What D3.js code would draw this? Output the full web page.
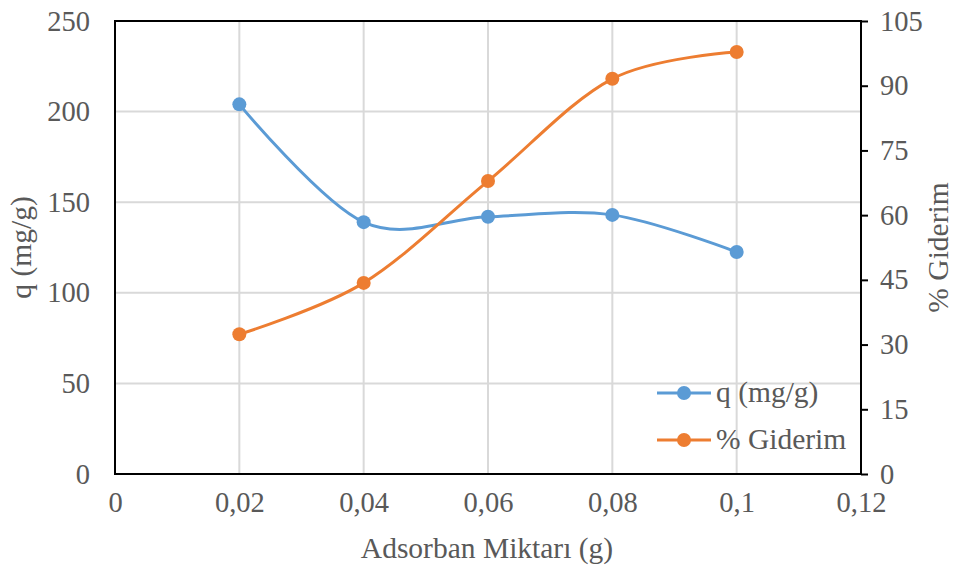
<!DOCTYPE html>
<html>
<head>
<meta charset="utf-8">
<script src="https://cdn.jsdelivr.net/npm/d3@7"></script>
<style>
  html, body { margin: 0; padding: 0; background: #fff; }
  svg { display: block; }
  svg text { font-family: "Times New Roman", Times, "Liberation Serif", serif; }
</style>
</head>
<body>
<svg id="chart" width="953" height="568"></svg>
<script>
// Adsorbent amount (g) on the x axis
const dose = [0.02, 0.04, 0.06, 0.08, 0.1];
// Adsorption capacity q (mg/g), left axis
const qValues = [204, 139, 142, 143, 122.5];
// Removal percentage, right axis
const removal = [32.4, 44.3, 67.9, 91.6, 97.8];

const xTicks = [0, 0.02, 0.04, 0.06, 0.08, 0.1, 0.12];
const xTickLabels = ["0", "0,02", "0,04", "0,06", "0,08", "0,1", "0,12"];
const leftTicks = [0, 50, 100, 150, 200, 250];
const rightTicks = [0, 15, 30, 45, 60, 75, 90, 105];

const seriesNames = ["q (mg/g)", "% Giderim"];
const colors = ["#5b9bd5", "#ed7d31"];
const textColor = "#595959";
const serifFamily = '"Times New Roman", Times, "Liberation Serif", serif';

const svg = d3.select("#chart");
const plot = { left: 115, right: 861, top: 21, bottom: 474 };

const x = d3.scaleLinear().domain([0, 0.12]).range([plot.left, plot.right]);
const yL = d3.scaleLinear().domain([0, 250]).range([plot.bottom, plot.top]);
const yR = d3.scaleLinear().domain([0, 105]).range([plot.bottom, plot.top]);

// Gridlines
const grid = svg.append("g").attr("stroke", "#d9d9d9").attr("stroke-width", 2);
grid.selectAll("line.h").data(leftTicks.slice(1)).join("line")
  .attr("x1", plot.left).attr("x2", plot.right)
  .attr("y1", d => yL(d)).attr("y2", d => yL(d));
grid.selectAll("line.v").data(xTicks.slice(1, -1)).join("line")
  .attr("y1", plot.top).attr("y2", plot.bottom)
  .attr("x1", d => x(d)).attr("x2", d => x(d));

// Plot frame
svg.append("rect")
  .attr("x", plot.left).attr("y", plot.top)
  .attr("width", plot.right - plot.left).attr("height", plot.bottom - plot.top)
  .attr("fill", "none").attr("stroke", "#000").attr("stroke-width", 2);

// Axes
const fontSize = 28.5;
const styleAxis = g => {
  g.select(".domain").remove();
  g.selectAll("text").attr("fill", textColor)
    .attr("font-size", fontSize).attr("font-family", serifFamily);
};

svg.append("g")
  .attr("transform", `translate(0,${plot.bottom})`)
  .call(d3.axisBottom(x).tickValues(xTicks).tickFormat((d, i) => xTickLabels[i]).tickSize(0).tickPadding(18))
  .call(styleAxis);

svg.append("g")
  .attr("transform", `translate(${plot.left},0)`)
  .call(d3.axisLeft(yL).tickValues(leftTicks).tickSize(0).tickPadding(25))
  .call(styleAxis);

svg.append("g")
  .attr("transform", `translate(${plot.right},0)`)
  .call(d3.axisRight(yR).tickValues(rightTicks).tickSize(7).tickPadding(12))
  .call(styleAxis)
  .call(g => g.selectAll(".tick line").attr("stroke", "#000").attr("stroke-width", 2));

// Axis titles
const title = sel => sel.attr("fill", textColor).attr("font-size", 29.5)
  .attr("font-family", serifFamily).attr("text-anchor", "middle");

svg.append("text").call(title)
  .attr("x", 487).attr("y", 558)
  .text("Adsorban Miktarı (g)");

svg.append("text").call(title)
  .attr("transform", `translate(31,${(plot.top + plot.bottom) / 2}) rotate(-90)`)
  .text("q (mg/g)");

svg.append("text").call(title)
  .attr("transform", `translate(948,${(plot.top + plot.bottom) / 2}) rotate(-90)`)
  .text("% Giderim");

// Series
const series = [
  { vals: qValues, y: yL },
  { vals: removal, y: yR }
];

series.forEach((s, i) => {
  const pts = dose.map((d, j) => [x(d), s.y(s.vals[j])]);
  svg.append("path")
    .attr("d", d3.line().curve(d3.curveCatmullRom.alpha(0))(pts))
    .attr("fill", "none").attr("stroke", colors[i]).attr("stroke-width", 3);
  svg.append("g").selectAll("circle").data(pts).join("circle")
    .attr("cx", d => d[0]).attr("cy", d => d[1]).attr("r", 7)
    .attr("fill", colors[i]);
});

// Legend
const legend = svg.append("g");
seriesNames.forEach((name, i) => {
  const ly = 393 + i * 47;
  legend.append("line").attr("x1", 657).attr("x2", 711).attr("y1", ly).attr("y2", ly)
    .attr("stroke", colors[i]).attr("stroke-width", 3);
  legend.append("circle").attr("cx", 684).attr("cy", ly).attr("r", 7).attr("fill", colors[i]);
  legend.append("text").attr("x", 716).attr("y", ly + 9).attr("fill", textColor)
    .attr("font-size", 29.5).attr("font-family", serifFamily).text(name);
});
</script>
</body>
</html>
